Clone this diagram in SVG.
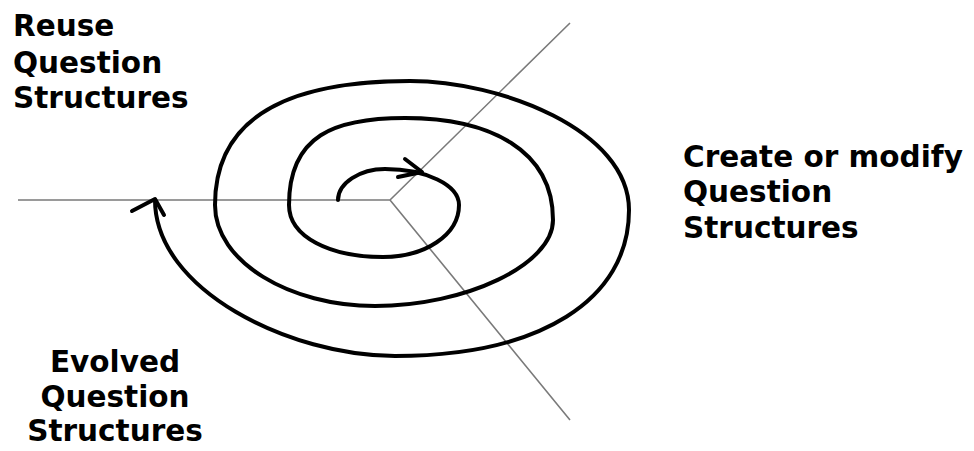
<svg xmlns="http://www.w3.org/2000/svg" width="974" height="451" viewBox="0 0 974 451">
<style>
.axis{stroke:#7a7a7a;stroke-width:1.6;fill:none}
.spiral{stroke:#000;stroke-width:4;fill:none;stroke-linecap:round;stroke-linejoin:round}
.lbl{font-family:"DejaVu Sans","Liberation Sans",sans-serif;font-weight:bold;font-size:29.5px;fill:#000}
</style>
<rect width="974" height="451" fill="#fff"/>
<g id="connectors">
<path class="axis" d="M18 200 H390 L570 23 M390 200 L570 420"/>
<path class="spiral" d="M338 200 C338 183 360 169 385 169 C426 169 459 185 459 205 C459 235 425 257 383 257 C330 257 289 237 289 205 C289 135 335 118 405 118 C490 118 553 150 553 220 C553 265 465 306 375 306 C290 306 215 262 215 205 C215 110 300 81 410 81 C500 81 629 130 629 210 C629 300 540 356 395 356 C290 356 155 290 155 200"/>
<path class="spiral" d="M405 159 L422 172 L398 177"/>
<path class="spiral" d="M132 211 L155 199 L164 215"/>
</g>
<g id="reuse">
<text class="lbl" x="13" y="36">Reuse</text>
<text class="lbl" x="13" y="73">Question</text>
<text class="lbl" x="13" y="108">Structures</text>
</g>
<g id="create">
<text class="lbl" x="683" y="167">Create or modify</text>
<text class="lbl" x="683" y="202">Question</text>
<text class="lbl" x="683" y="238">Structures</text>
</g>
<g id="evolved">
<text class="lbl" x="115" y="372" text-anchor="middle">Evolved</text>
<text class="lbl" x="115" y="407" text-anchor="middle">Question</text>
<text class="lbl" x="115" y="441" text-anchor="middle">Structures</text>
</g>
</svg>
